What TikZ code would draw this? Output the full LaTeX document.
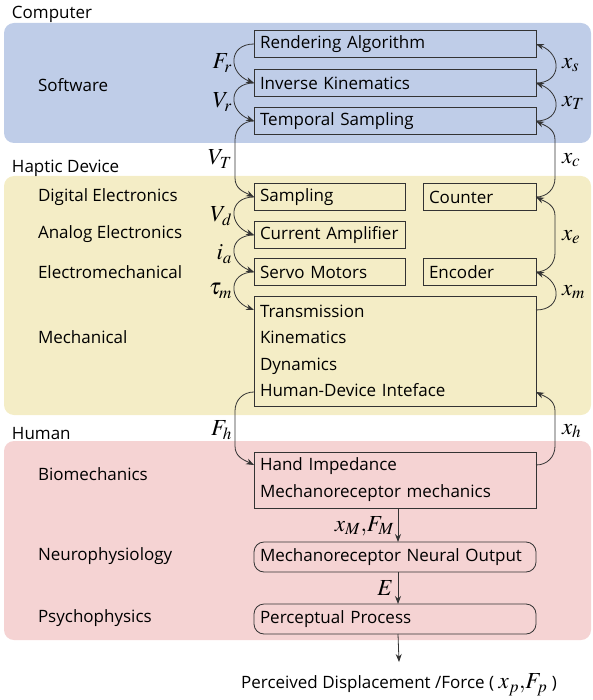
\documentclass[tikz,border=0pt]{standalone}
\usepackage{mathptmx}
\usepackage{fontspec}
\setmainfont{Open Sans}
\usetikzlibrary{arrows.meta,positioning,calc}
\definecolor{cSoft}{HTML}{BFCDE8}
\definecolor{cDev} {HTML}{F4EDC6}
\definecolor{cHum} {HTML}{F5D3D3}
\definecolor{cNeut}{HTML}{333333}
\tikzset{
  blk/.style   ={draw=cNeut,line width=0.8pt,align=left,inner xsep=6pt,inner ysep=0pt,
                 minimum height=27pt},
  rblk/.style  ={blk,rounded corners=10pt,minimum height=30pt},
  lay/.style   ={anchor=west,inner sep=0pt},
  var/.style   ={inner sep=1pt,font=\fontsize{23}{23}\selectfont},
  sig/.style   ={-{Stealth[length=8pt,width=6pt]},draw=cNeut,line width=0.8pt},
  grp/.style   ={rounded corners=10pt},
  % short hops between neighbouring boxes
  lbend/.style ={to path={.. controls +(-26,0) and +(-26,-10) .. (\tikztotarget)}},
  rbend/.style ={to path={.. controls +(26,0) and +(26,10) .. (\tikztotarget)}},
  % long runs down the left / up the right
  lrun/.style  ={to path={.. controls +(-11,0) and +(0,-11) .. ++(-19,19)
                 -- ([xshift=-19pt,yshift=19pt]\tikztotarget)
                 .. controls +(0,11) and +(-10,-5) .. (\tikztotarget)}},
  rrun/.style  ={to path={.. controls +(11,0) and +(0,11) .. ++(19,-19)
                 -- ([xshift=19pt,yshift=-19pt]\tikztotarget)
                 .. controls +(0,-11) and +(10,5) .. (\tikztotarget)}},
}

\begin{document}
\begin{tikzpicture}[x=1pt,y=-1pt,font=\fontsize{17}{20}\selectfont,
                    every node/.style={outer sep=0pt}]
\useasboundingbox (0,0) rectangle (592,700);
\fill[grp,cSoft] (4,23)  rectangle (591,143);
\fill[grp,cDev]  (4,176) rectangle (591,415);
\fill[grp,cHum]  (4,441) rectangle (591,640);

\node[lay] (comp)  at (12,14)  {Computer};
\node[lay] (soft)  at (38,85)  {Software};
\node[lay] (hapt)  at (12,168) {Haptic Device};
\node[lay] (digel) at (38,197) {Digital Electronics};
\node[lay] (anel)  at (38,234) {Analog Electronics};
\node[lay] (elmec) at (38,272) {Electromechanical};
\node[lay] (mech)  at (38,337) {Mechanical};
\node[lay] (hum)   at (12,434) {Human};
\node[lay] (biom)  at (38,474) {Biomechanics};
\node[lay] (neuro) at (38,556) {Neurophysiology};
\node[lay] (psych) at (38,618) {Psychophysics};

\node[blk,text width=270pt,anchor=west] (rend) at (254,44)  {Rendering Algorithm};
\node[blk,text width=270pt,anchor=west] (inv)  at (254,83)  {Inverse Kinematics};
\node[blk,text width=270pt,anchor=west] (temp) at (254,121) {Temporal Sampling};

\node[blk,text width=139pt,anchor=west] (samp)  at (254,197) {Sampling};
\node[blk,text width=101pt,anchor=west] (count) at (423,197) {Counter};
\node[blk,text width=139pt,anchor=west] (amp)   at (254,235) {Current Amplifier};
\node[blk,text width=139pt,anchor=west] (servo) at (254,272) {Servo Motors};
\node[blk,text width=101pt,anchor=west] (enc)   at (423,272) {Encoder};
\node[blk,text width=270pt,anchor=west,minimum height=110pt,
      font=\fontsize{17}{26.5}\selectfont] (trans) at (254,351)
  {Transmission\\Kinematics\\Dynamics\\Human-Device Inteface};

\node[blk,text width=270pt,anchor=west,minimum height=56pt,
      font=\fontsize{17}{27}\selectfont] (hand) at (254,480)
  {Hand Impedance\\Mechanoreceptor mechanics};
\node[rblk,text width=270pt,anchor=west] (neur) at (254,557) {Mechanoreceptor Neural Output};
\node[rblk,text width=270pt,anchor=west] (perc) at (254,619) {Perceptual Process};
\node[anchor=north,inner sep=0pt] (out) at (399,674)
  {Perceived Displacement /Force ( {\fontsize{23}{23}\selectfont$x_p,\!F_p$} )};

\draw[sig] (rend.west) to[lbend] (inv.west);
\draw[sig] (inv.west) to[lbend] (temp.west);
\draw[sig] (temp.west) to[lrun] (samp.west);
\draw[sig] (samp.west) to[lbend] (amp.west);
\draw[sig] (amp.west) to[lbend] (servo.west);
\draw[sig] (servo.west) to[lbend] ([yshift=-14pt]trans.north west);
\draw[sig] ([yshift=14pt]trans.south west) to[lrun] ([yshift=-13pt]hand.north west);

\draw[sig] (inv.east) to[rbend] (rend.east);
\draw[sig] (temp.east) to[rbend] (inv.east);
\draw[sig] (count.east) to[rrun] (temp.east);
\draw[sig] (enc.east) to[rrun] (count.east);
\draw[sig] ([yshift=-14pt]trans.north east) to[rbend] (enc.east);
\draw[sig] ([yshift=-13pt]hand.north east) to[rrun] ([yshift=14pt]trans.south east);

\draw[sig] ([xshift=3pt]hand.south) -- ([xshift=3pt]neur.north);
\draw[sig] ([xshift=3pt]neur.south) -- ([xshift=3pt]perc.north);
\draw[sig] ([xshift=3pt]perc.south) -- ([yshift=12pt]out.north);

\node[var,anchor=east] (fr)   at (233,63)  {$F_r$};
\node[var,anchor=east] (vr)   at (233,102) {$V_r$};
\node[var,anchor=east] (vt)   at (233,159) {$V_T$};
\node[var,anchor=east] (vd)   at (233,216) {$V_d$};
\node[var,anchor=east] (ia)   at (233,254) {$i_a$};
\node[var,anchor=east] (taum) at (233,291) {$\tau_m$};
\node[var,anchor=east] (fh)   at (233,430) {$F_h$};
\node[var,anchor=west] (xs)   at (561,65)  {$x_s$};
\node[var,anchor=west] (xt)   at (561,103) {$x_T$};
\node[var,anchor=west] (xc)   at (561,160) {$x_c$};
\node[var,anchor=west] (xe)   at (561,237) {$x_e$};
\node[var,anchor=west] (xm)   at (561,292) {$x_m$};
\node[var,anchor=west] (xh)   at (561,431) {$x_h$};
\node[var,anchor=east] (xmfm) at (395,526) {$x_M,\!F_M$};
\node[var,anchor=east] (en)   at (394,588) {$E$};
\end{tikzpicture}
\end{document}
